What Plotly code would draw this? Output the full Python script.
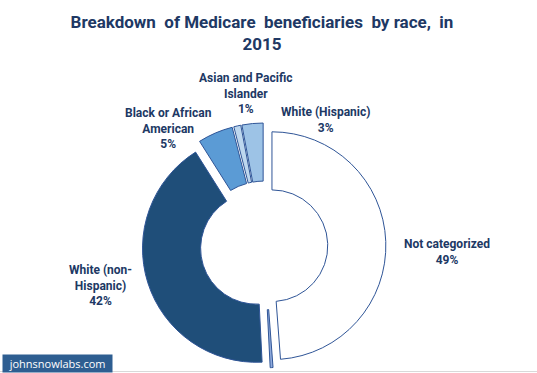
import plotly.graph_objects as go

categories = ["Not categorized", "Other", "White (non-Hispanic)",
              "Black or African American", "Asian and Pacific Islander",
              "White (Hispanic)"]
label_text = ["Not categorized", "", "White (non-<br>Hispanic)",
              "Black or African<br>American", "Asian and Pacific<br>Islander",
              "White (Hispanic)"]
values = [49, 0.4, 42, 5, 1, 3]
colors = ["#FFFFFF", "#8FAADC", "#1F4E79", "#5B9BD5", "#BDD7EE", "#9DC3E6"]
pulls = [0.07, 0.07, 0.07, 0.08, 0.08, 0.08]
# label centres in pixels (x, y from top)
label_pos = [(447, 252), None, (100, 285), (168, 128), (246, 94), (325, 120)]

W, H = 537, 373
cx, cy, size = 264, 246, 246
total = sum(values)

fig = go.Figure(go.Pie(
    labels=categories,
    values=values,
    textinfo="none",
    hole=0.49,
    sort=False,
    direction="clockwise",
    rotation=0,
    pull=pulls,
    marker=dict(colors=colors, line=dict(color="#2F5597", width=1)),
    showlegend=False,
    hoverinfo="label+percent",
    domain=dict(x=[(cx - size / 2) / W, (cx + size / 2) / W],
                y=[(H - cy - size / 2) / H, (H - cy + size / 2) / H]),
))

annotations = []
for name, v, pos in zip(label_text, values, label_pos):
    if pos is None:
        continue
    annotations.append(dict(
        text=f"{name}<br>{v / total * 100:.0f}%",
        xref="paper", yref="paper", x=pos[0] / W, y=1 - pos[1] / H,
        xanchor="center", yanchor="middle", showarrow=False, align="center",
        font=dict(family="Roboto", size=12, color="#203864", weight="bold")))

annotations.append(dict(text="  johnsnowlabs.com  ", xref="paper", yref="paper",
                        x=2 / W, y=0.0, xanchor="left", yanchor="bottom",
                        showarrow=False, bgcolor="#2E5E91",
                        font=dict(family="Open Sans", size=11, color="white"),
                        borderpad=1))

fig.update_layout(
    width=W, height=H,
    margin=dict(l=0, r=0, t=0, b=0),
    paper_bgcolor="white",
    plot_bgcolor="white",
    title=dict(text="Breakdown  of Medicare  beneficiaries  by race,  in<br>2015",
               x=262 / W, xanchor="center", y=1 - 12 / H, yanchor="top",
               pad=dict(t=16),
               font=dict(family="Roboto", size=17, color="#203864", weight="bold")),
    annotations=annotations,
    shapes=[dict(type="line", xref="paper", yref="paper", x0=0, x1=1,
                 y0=1.5 / H, y1=1.5 / H, line=dict(color="#D9D9D9", width=1))],
)

fig.write_html("out.html", config={"displayModeBar": False},
               post_script="document.body.style.margin='0';document.body.style.overflow='hidden';")
